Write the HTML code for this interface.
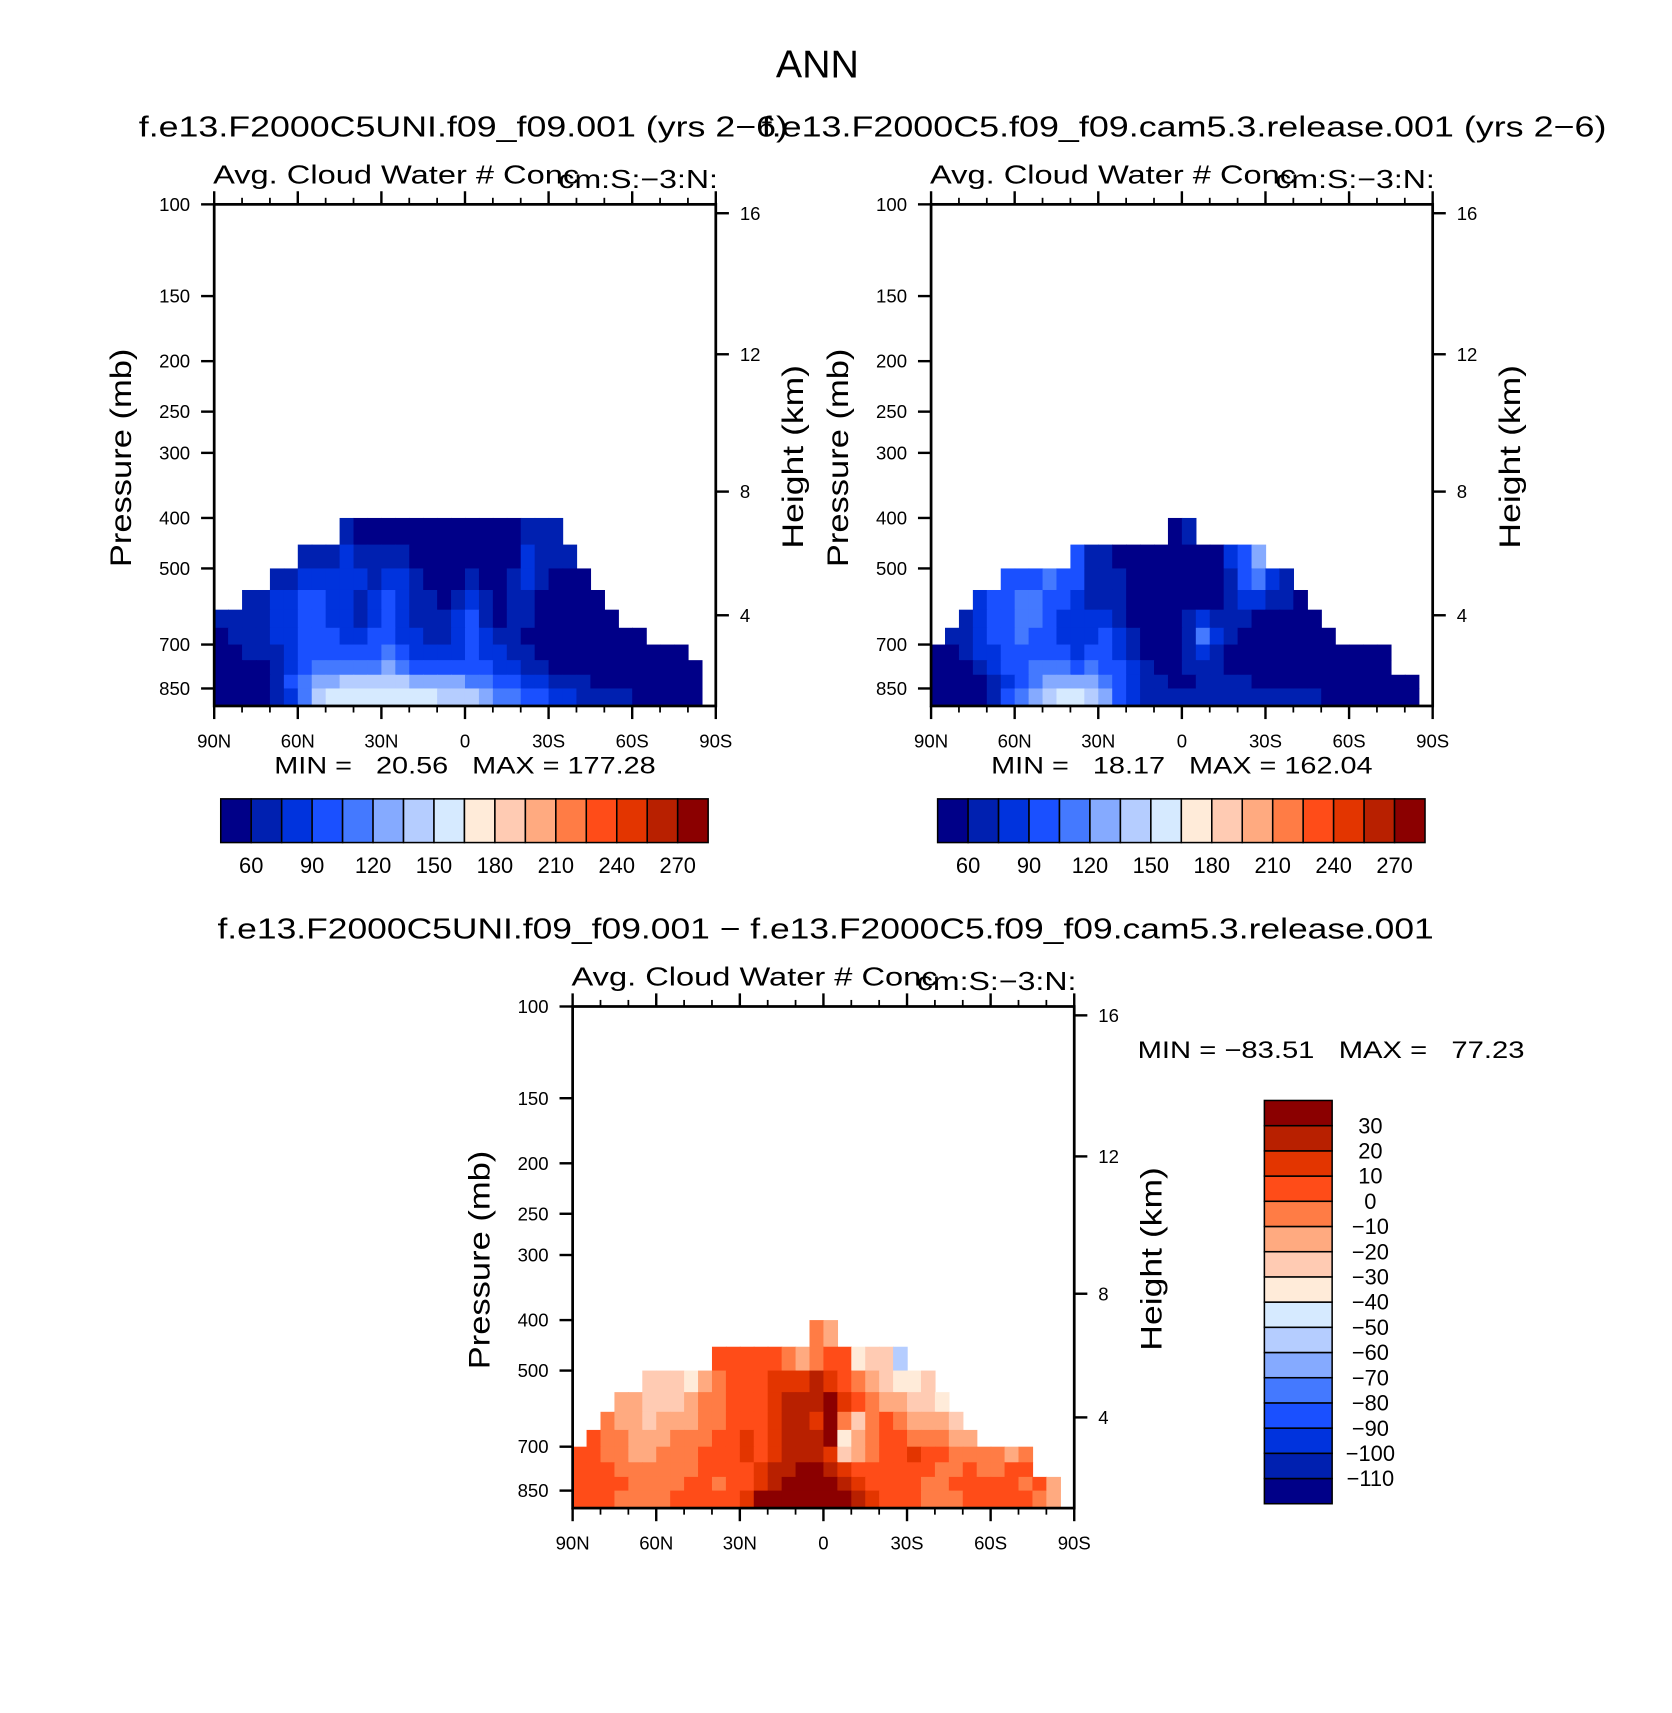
<!DOCTYPE html>
<html><head><meta charset="utf-8"><style>
html,body{margin:0;padding:0;background:#fff}
svg{display:block}
text{font-family:"Liberation Sans",sans-serif;fill:#000}
</style></head><body>
<svg id="fig" width="1672" height="1713" viewBox="0 0 1530 1567.5" preserveAspectRatio="none" xmlns="http://www.w3.org/2000/svg">
<rect x="0" y="0" width="1530" height="1567.5" fill="#fff"/>
<text x="748" y="71" font-size="36" text-anchor="middle">ANN</text>
<text x="127" y="125" font-size="26" textLength="594" lengthAdjust="spacingAndGlyphs">f.e13.F2000C5UNI.f09_f09.001 (yrs 2−6)</text>
<text x="697" y="125" font-size="26" textLength="773" lengthAdjust="spacingAndGlyphs">f.e13.F2000C5.f09_f09.cam5.3.release.001 (yrs 2−6)</text>
<text x="199" y="859" font-size="26" textLength="1113" lengthAdjust="spacingAndGlyphs">f.e13.F2000C5UNI.f09_f09.001 − f.e13.F2000C5.f09_f09.cam5.3.release.001</text>
<text x="251" y="708" font-size="22" textLength="349" lengthAdjust="spacingAndGlyphs" xml:space="preserve">MIN =   20.56   MAX = 177.28</text>
<text x="907" y="708" font-size="22" textLength="349" lengthAdjust="spacingAndGlyphs" xml:space="preserve">MIN =   18.17   MAX = 162.04</text>
<text x="1041" y="968" font-size="22" textLength="354" lengthAdjust="spacingAndGlyphs" xml:space="preserve">MIN = −83.51   MAX =   77.23</text>
<g id="layer"></g>
</svg>
<script>
const _ = null;
// pressure boundaries of grid rows (mb); columns are 5-degree bands from 90N to 90S
const levelsP = [400, 450, 500, 550, 600, 650, 700, 750, 800, 850, 918];
const colWidthDeg = 5;
const pressureTicks = [100, 150, 200, 250, 300, 400, 500, 700, 850];
const heightKm = [16, 12, 8, 4];
const heightP = [104, 194, 356, 615];
const latLabels = ["90N", "60N", "30N", "0", "30S", "60S", "90S"];
const latLabelDeg = [0, 30, 60, 90, 120, 150, 180];
const cnLevels = [60, 75, 90, 105, 120, 135, 150, 165, 180, 195, 210, 225, 240, 255, 270];
const cbLabels = [60, 90, 120, 150, 180, 210, 240, 270];
const diffLevels = [-110, -100, -90, -80, -70, -60, -50, -40, -30, -20, -10, 0, 10, 20, 30];
const diffLabels = [30, 20, 10, 0, -10, -20, -30, -40, -50, -60, -70, -80, -90, -100, -110];
const palette = ["#000088", "#0020b0", "#0033dd", "#1a50ff", "#4479ff", "#85aaff", "#b5cdff", "#d6eaff", "#ffebd9", "#ffcbb3", "#ffaa80", "#ff7c45", "#ff4c18", "#e33500", "#b82000", "#8b0000"];

const grid1 = [
[_,_,_,_,_,_,_,_,_,68,45,45,45,45,45,45,45,45,45,45,45,45,68,68,68,_,_,_,_,_,_,_,_,_,_,_],
[_,_,_,_,_,_,68,68,68,82,68,68,68,68,45,45,45,45,45,45,45,45,82,68,68,68,_,_,_,_,_,_,_,_,_,_],
[_,_,_,_,68,68,82,82,82,82,82,68,82,82,68,45,45,45,68,45,45,68,82,68,45,45,45,_,_,_,_,_,_,_,_,_],
[_,_,68,68,82,82,97,97,82,82,68,82,97,82,68,68,45,68,82,68,45,68,68,45,45,45,45,45,_,_,_,_,_,_,_,_],
[68,68,68,68,82,82,97,97,82,82,68,82,97,82,68,68,68,82,97,68,45,68,68,45,45,45,45,45,45,_,_,_,_,_,_,_],
[45,68,68,68,82,82,97,97,97,82,82,97,97,82,82,68,68,82,97,82,68,68,45,45,45,45,45,45,45,45,45,_,_,_,_,_],
[45,45,68,68,68,82,97,97,97,97,97,97,112,97,82,82,82,82,97,82,82,68,68,45,45,45,45,45,45,45,45,45,45,45,_,_],
[45,45,45,45,68,82,97,112,112,112,112,112,127,112,97,97,97,97,97,97,82,82,68,68,45,45,45,45,45,45,45,45,45,45,45,_],
[45,45,45,45,68,97,112,127,127,142,142,142,142,142,127,127,127,127,112,112,97,97,82,82,68,68,68,45,45,45,45,45,45,45,45,_],
[45,45,45,45,68,82,112,142,157,157,160,157,160,157,157,157,142,142,142,127,112,112,97,97,82,82,68,68,68,68,45,45,45,45,45,_]
];
const grid2 = [
[_,_,_,_,_,_,_,_,_,_,_,_,_,_,_,_,_,45,68,_,_,_,_,_,_,_,_,_,_,_,_,_,_,_,_,_],
[_,_,_,_,_,_,_,_,_,_,97,68,68,45,45,45,45,45,45,45,45,82,97,127,_,_,_,_,_,_,_,_,_,_,_,_],
[_,_,_,_,_,97,97,97,112,97,97,68,68,68,45,45,45,45,45,45,45,68,97,112,82,68,_,_,_,_,_,_,_,_,_,_],
[_,_,_,82,97,97,112,112,97,97,82,68,68,68,45,45,45,45,45,45,45,68,82,82,68,68,45,_,_,_,_,_,_,_,_,_],
[_,_,68,82,97,97,112,112,97,82,82,82,82,68,45,45,45,45,68,82,68,68,68,45,45,45,45,45,_,_,_,_,_,_,_,_],
[_,68,68,82,97,97,112,97,97,82,82,82,97,82,68,45,45,45,68,112,82,68,45,45,45,45,45,45,45,_,_,_,_,_,_,_],
[45,45,68,82,82,97,97,97,97,97,82,97,97,82,68,45,45,45,68,82,68,45,45,45,45,45,45,45,45,45,45,45,45,_,_,_],
[45,45,45,68,82,97,97,112,112,112,97,112,97,97,82,68,45,45,68,68,68,45,45,45,45,45,45,45,45,45,45,45,45,_,_,_],
[45,45,45,45,68,82,97,112,127,127,127,127,112,97,82,68,68,45,45,68,68,68,68,45,45,45,45,45,45,45,45,45,45,45,45,_],
[45,45,45,45,68,97,112,127,142,157,160,142,127,97,82,68,68,68,68,68,68,68,68,68,68,68,68,68,45,45,45,45,45,45,45,_]
];
const grid3 = [
[_,_,_,_,_,_,_,_,_,_,_,_,_,_,_,_,_,-8,-20,_,_,_,_,_,_,_,_,_,_,_,_,_,_,_,_,_],
[_,_,_,_,_,_,_,_,_,_,5,5,5,5,5,-5,-15,-5,5,5,-35,-25,-30,-55,_,_,_,_,_,_,_,_,_,_,_,_],
[_,_,_,_,_,-25,-25,-22,-35,-15,-5,5,5,5,15,15,15,25,15,5,-5,-15,-25,-35,-35,-25,_,_,_,_,_,_,_,_,_,_],
[_,_,_,-15,-15,-25,-25,-22,-15,-5,-5,5,5,5,15,25,25,25,35,15,5,-5,-15,-15,-25,-25,-35,_,_,_,_,_,_,_,_,_],
[_,_,-5,-15,-15,-22,-18,-15,-15,-5,-5,5,5,5,15,25,25,15,35,-5,-25,-5,5,-5,-15,-15,-15,-25,_,_,_,_,_,_,_,_],
[_,5,-5,-5,-15,-15,-15,-5,-5,-5,5,5,15,5,15,25,25,25,35,-35,-15,-5,5,5,-5,-5,-5,-15,-15,_,_,_,_,_,_,_],
[5,5,-5,-5,-15,-15,-5,-5,-5,5,5,5,15,5,15,25,25,25,15,-25,-15,-5,5,5,15,5,5,-5,-5,-5,-5,-15,-5,_,_,_],
[5,5,5,-5,-5,-5,-5,-5,-5,5,5,5,5,15,25,25,35,35,25,15,5,5,5,5,5,5,-5,-5,5,-5,-5,5,5,_,_,_],
[5,5,5,5,-5,-5,-5,-5,5,5,-5,5,5,15,25,35,35,35,35,25,15,5,5,5,5,-5,-5,5,5,5,5,5,-5,5,-15,_],
[5,5,5,-5,-5,-5,-5,5,5,5,5,5,15,35,35,35,35,35,35,35,25,15,5,5,5,-5,-5,-5,5,5,5,5,5,-5,-15,_]
];

const NS = "http://www.w3.org/2000/svg";
const layer = document.getElementById("layer");
function mk(tag, parent) { const e = document.createElementNS(NS, tag); (parent || layer).appendChild(e); return e; }
function colorIndex(v, lv) { let k = 0; for (const l of lv) { if (v >= l) k++; } return k; }

const PW = 459, PH = 459, KLOG = 207;
const panels = [
  { x0: 196, y0: 187, grid: grid1, lv: cnLevels, name: "left" },
  { x0: 852, y0: 187, grid: grid2, lv: cnLevels, name: "right" },
  { x0: 524, y0: 921, grid: grid3, lv: diffLevels, name: "diff" }
];
function xS(p, deg) { return p.x0 + deg / 180 * PW; }
function yS(p, pres) { return p.y0 + KLOG * Math.log(pres / 100); }

panels.forEach(p => {
  const g = mk("g");
  
  
  p.grid.forEach((row, r) => {
    row.forEach((v, c) => {
      if (v === null) return;
      const x1 = xS(p, c * colWidthDeg), x2 = xS(p, (c + 1) * colWidthDeg);
      const y1 = yS(p, levelsP[r]), y2 = Math.min(yS(p, levelsP[r + 1]), p.y0 + PH);
      const rc = mk("rect", g);
      
      
      rc.setAttribute("x", x1); rc.setAttribute("y", y1);
      rc.setAttribute("width", x2 - x1 + 0.6); rc.setAttribute("height", y2 - y1 + 0.6);
      rc.setAttribute("fill", palette[colorIndex(v, p.lv)]);
    });
  });
  const fr = mk("rect", g);
  
  
  fr.setAttribute("x", p.x0); fr.setAttribute("y", p.y0);
  fr.setAttribute("width", PW); fr.setAttribute("height", PH);
  fr.setAttribute("fill", "none"); fr.setAttribute("stroke", "#000"); fr.setAttribute("stroke-width", "2.5");
  for (let d = 0; d <= 180; d += 10) {
    const major = d % 30 === 0, len = major ? 12 : 6, x = xS(p, d);
    [[p.y0, p.y0 - len], [p.y0 + PH, p.y0 + PH + len]].forEach(([a, b]) => {
      const t = mk("line", g);
      
      
      t.setAttribute("x1", x); t.setAttribute("x2", x); t.setAttribute("y1", a); t.setAttribute("y2", b);
      t.setAttribute("stroke", "#000"); t.setAttribute("stroke-width", major ? 2.2 : 1.6);
    });
  }
  latLabels.forEach((lab, i) => {
    const t = mk("text", g);
    
    
    t.setAttribute("x", xS(p, latLabelDeg[i])); t.setAttribute("y", p.y0 + PH + 38);
    t.setAttribute("font-size", "17"); t.setAttribute("text-anchor", "middle");
    t.textContent = lab;
  });
  pressureTicks.forEach(pr => {
    const y = yS(p, pr);
    const t = mk("line", g);
    
    
    t.setAttribute("x1", p.x0 - 12); t.setAttribute("x2", p.x0); t.setAttribute("y1", y); t.setAttribute("y2", y);
    t.setAttribute("stroke", "#000"); t.setAttribute("stroke-width", 2.2);
    const l = mk("text", g);
    
    
    l.setAttribute("x", p.x0 - 22); l.setAttribute("y", y + 6);
    l.setAttribute("font-size", "17"); l.setAttribute("text-anchor", "end");
    l.textContent = pr;
  });
  heightKm.forEach((km, i) => {
    const y = yS(p, heightP[i]);
    const t = mk("line", g);
    
    
    t.setAttribute("x1", p.x0 + PW); t.setAttribute("x2", p.x0 + PW + 12); t.setAttribute("y1", y); t.setAttribute("y2", y);
    t.setAttribute("stroke", "#000"); t.setAttribute("stroke-width", 2.2);
    const l = mk("text", g);
    
    
    l.setAttribute("x", p.x0 + PW + 22); l.setAttribute("y", y + 6);
    l.setAttribute("font-size", "17");
    l.textContent = km;
  });
  const yt = mk("text", g);
  
  
  yt.setAttribute("transform", `translate(${p.x0 - 76},${p.y0 + 232}) rotate(-90)`);
  yt.setAttribute("font-size", "27"); yt.setAttribute("text-anchor", "middle");
  yt.setAttribute("textLength", "200"); yt.setAttribute("lengthAdjust", "spacingAndGlyphs");
  yt.textContent = "Pressure (mb)";
  const ht = mk("text", g);
  
  
  ht.setAttribute("transform", `translate(${p.x0 + PW + 80},${p.y0 + 231}) rotate(-90)`);
  ht.setAttribute("font-size", "27"); ht.setAttribute("text-anchor", "middle");
  ht.setAttribute("textLength", "168"); ht.setAttribute("lengthAdjust", "spacingAndGlyphs");
  ht.textContent = "Height (km)";
  const lt = mk("text", g);
  
  
  lt.setAttribute("x", p.x0 - 1); lt.setAttribute("y", p.y0 - 19);
  lt.setAttribute("font-size", "24"); lt.setAttribute("textLength", "335"); lt.setAttribute("lengthAdjust", "spacingAndGlyphs");
  lt.textContent = "Avg. Cloud Water # Conc";
  const ut = mk("text", g);
  
  
  ut.setAttribute("x", p.x0 + PW + 2); ut.setAttribute("y", p.y0 - 15);
  ut.setAttribute("font-size", "24"); ut.setAttribute("text-anchor", "end");
  ut.setAttribute("textLength", "146"); ut.setAttribute("lengthAdjust", "spacingAndGlyphs");
  ut.textContent = "cm:S:−3:N:";
});

[202, 858].forEach((cx, bi) => {
  const g = mk("g");
  
  
  const bw = 446 / palette.length;
  palette.forEach((col, i) => {
    const r = mk("rect", g);
    
    
    r.setAttribute("x", cx + i * bw); r.setAttribute("y", 731); r.setAttribute("width", bw); r.setAttribute("height", 40);
    r.setAttribute("fill", col); r.setAttribute("stroke", "#000"); r.setAttribute("stroke-width", 1.4);
  });
  cbLabels.forEach(v => {
    const k = cnLevels.indexOf(v) + 1;
    const t = mk("text", g);
    
    
    t.setAttribute("x", cx + k * bw); t.setAttribute("y", 799);
    t.setAttribute("font-size", "20"); t.setAttribute("text-anchor", "middle");
    t.textContent = v;
  });
});

(function () {
  const g = mk("g");
  
  
  const top = 1007, bh = 369 / palette.length, x = 1157;
  palette.forEach((col, i) => {
    const r = mk("rect", g);
    
    
    r.setAttribute("x", x); r.setAttribute("y", top + (palette.length - 1 - i) * bh);
    r.setAttribute("width", 62); r.setAttribute("height", bh);
    r.setAttribute("fill", col); r.setAttribute("stroke", "#000"); r.setAttribute("stroke-width", 1.4);
  });
  diffLabels.forEach(v => {
    const k = diffLevels.length - diffLevels.indexOf(v);
    const t = mk("text", g);
    
    
    t.setAttribute("x", 1254); t.setAttribute("y", top + k * bh + 7);
    t.setAttribute("font-size", "20"); t.setAttribute("text-anchor", "middle");
    t.textContent = v < 0 ? "−" + Math.abs(v) : String(v);
  });
})();
</script>
</body></html>
